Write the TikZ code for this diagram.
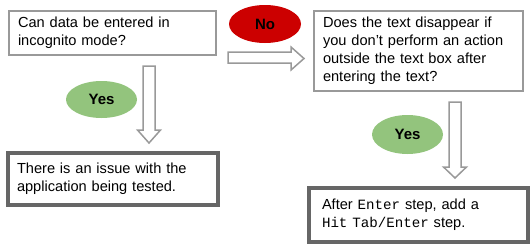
\documentclass[tikz,border=0pt]{standalone}
\usepackage{fontspec}
\usetikzlibrary{shapes.geometric}
\setmainfont{Liberation Sans}
\newfontfamily\mono{Liberation Mono}[Scale=0.97]
\definecolor{boxgray}{HTML}{999999}
\definecolor{darkbox}{HTML}{666666}
\definecolor{nored}{HTML}{CC0000}
\definecolor{yesgreen}{HTML}{93C47D}
\begin{document}
\begin{tikzpicture}[x=1pt,y=-1pt,
  txt/.style={font=\fontsize{14.6}{18}\selectfont, align=left, inner xsep=9pt, inner ysep=0pt},
  qbox/.style={txt, draw=boxgray, line width=1.6pt, rectangle},
  abox/.style={txt, draw=darkbox, line width=3.5pt, rectangle},
  lab/.style={ellipse, font=\fontsize{15}{16}\bfseries\selectfont, inner sep=0pt},
  barrow/.style={draw=boxgray, fill=white, line width=1.5pt, line join=miter}
]
\useasboundingbox (0,0) rectangle (532,250);

\node[qbox, minimum width=207pt, minimum height=44pt, text width=189pt] (q1) at (112.5,33)
  {Can data be entered in\\incognito mode?};
\node[qbox, minimum width=209pt, minimum height=80pt, text width=191pt] (q2) at (418.5,51)
  {Does the text disappear if\\you don’t perform an action\\outside the text box after\\entering the text?};
\node[abox, minimum width=210pt, minimum height=52pt, text width=192pt] (a1) at (113,179)
  {There is an issue with the\\application being tested.};
\node[abox, minimum width=211pt, minimum height=54pt, text width=193pt, inner xsep=13pt] (a2) at (418.5,215)
  {After {\mono Enter} step, add a\\{\mono Hit Tab/Enter} step.};

\node[lab, fill=nored, minimum width=72pt, minimum height=38pt] (no) at (265,24) {No};
\node[lab, fill=yesgreen, minimum width=71pt, minimum height=37pt] (yes1) at (101.5,99.5) {Yes};
\node[lab, fill=yesgreen, minimum width=71pt, minimum height=39pt] (yes2) at (407.5,134.5) {Yes};

% block arrows
\draw[barrow] (228,52) -- (291,52) -- (291,47) -- (304,58.5) -- (291,70) -- (291,63) -- (228,63) -- cycle;
\draw[barrow] (143,66) -- (155,66) -- (155,130) -- (160.5,130) -- (149,143) -- (137.5,130) -- (143,130) -- cycle;
\draw[barrow] (449,102) -- (461,102) -- (461,167) -- (466.5,167) -- (455,178) -- (443.5,167) -- (449,167) -- cycle;
\end{tikzpicture}
\end{document}
